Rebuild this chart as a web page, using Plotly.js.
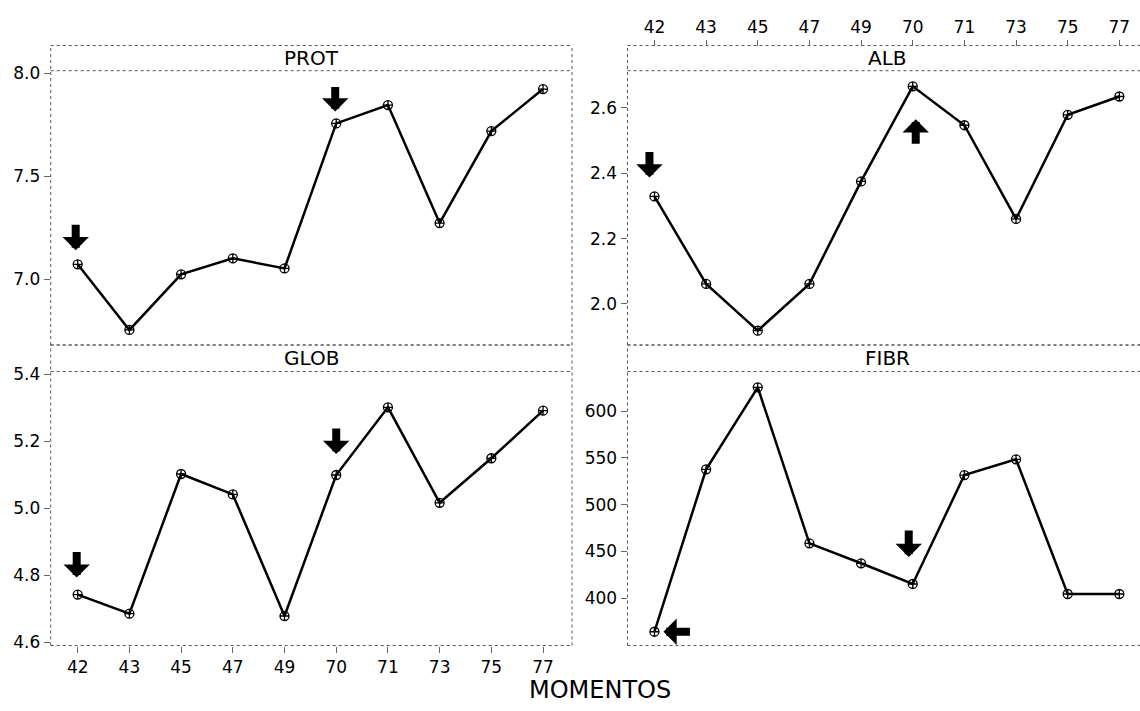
<!DOCTYPE html>
<html><head><meta charset="utf-8">
<script src="https://cdn.plot.ly/plotly-3.0.1.min.js"></script>
<style>html,body{margin:0;padding:0;background:#fff}</style>
</head><body><div id="chart" style="width:1140px;height:711px"></div>
<script>
// ---- data ----
const momentos = ['42','43','45','47','49','70','71','73','75','77'];
const prot = [7.073, 6.754, 7.024, 7.102, 7.053, 7.757, 7.846, 7.273, 7.720, 7.924];
const glob = [4.742, 4.685, 5.102, 5.041, 4.678, 5.099, 5.301, 5.016, 5.149, 5.291];
const alb  = [2.329, 2.061, 1.918, 2.061, 2.375, 2.666, 2.547, 2.260, 2.579, 2.635];
const fibr = [364.3, 537.7, 625.3, 458.7, 437.4, 415.3, 531.6, 548.4, 404.6, 404.6];
const panelNames = ['PROT', 'GLOB', 'ALB', 'FIBR'];
const xTitle = 'MOMENTOS';

// ---- styling ----
const tickFont = {family: 'DejaVu Sans', size: 17, color: '#000'};
const lineStyle = {color: '#000', width: 2.5};
const markerStyle = {symbol: 'circle-cross-open', size: 9, color: '#000', line: {width: 1.3, color: '#000'}};

function trace(y, xa, ya) {
  return {x: momentos, y: y, xaxis: xa, yaxis: ya, type: 'scatter', mode: 'lines+markers',
          line: lineStyle, marker: markerStyle, showlegend: false, hoverinfo: 'x+y'};
}
const data = [
  trace(prot, 'x', 'y'),
  trace(glob, 'x2', 'y2'),
  trace(alb, 'x3', 'y3'),
  trace(fibr, 'x4', 'y4')
];

const W = 1140, H = 711;
const leftDom = [50.7 / W, 572 / W];
const rightDom = [627.5 / W, 1];
const topDom = [1 - 345 / H, 1 - 70.7 / H];
const botDom = [1 - 645.5 / H, 1 - 371.5 / H];
const hTop = 25.2 / 274.3, hBot = 26.5 / 274;

const baseX = {type: 'category', categoryorder: 'array', categoryarray: momentos,
  showgrid: false, zeroline: false, showline: false, tickfont: tickFont, fixedrange: true};
const baseY = {showgrid: false, zeroline: false, showline: false, ticks: 'outside', ticklen: 6,
  tickcolor: '#666', tickwidth: 1, tickfont: tickFont, fixedrange: true};

const layout = {
  width: W, height: H, margin: {l: 0, r: 0, t: 0, b: 0},
  paper_bgcolor: '#fff', plot_bgcolor: '#fff', showlegend: false,
  xaxis:  Object.assign({}, baseX, {domain: leftDom, anchor: 'y', range: [-0.522, 9.56], showticklabels: false, ticks: ''}),
  yaxis:  Object.assign({}, baseY, {domain: topDom, anchor: 'x', range: [6.681, 8.013], tickvals: [7.0, 7.5, 8.0], ticktext: ['7.0','7.5','8.0']}),
  xaxis2: Object.assign({}, baseX, {domain: leftDom, anchor: 'y2', range: [-0.522, 9.56], ticks: 'outside', ticklen: 6, tickcolor: '#666'}),
  yaxis2: Object.assign({}, baseY, {domain: botDom, anchor: 'x2', range: [4.590, 5.408], tickvals: [4.6, 4.8, 5.0, 5.2, 5.4], ticktext: ['4.6','4.8','5.0','5.2','5.4']}),
  xaxis3: Object.assign({}, baseX, {domain: rightDom, anchor: 'free', position: 1 - 45.7 / H, side: 'top', range: [-0.522, 9.40], ticks: 'outside', ticklen: 6, tickcolor: '#666'}),
  yaxis3: Object.assign({}, baseY, {domain: topDom, anchor: 'x3', range: [1.874, 2.714], tickvals: [2.0, 2.2, 2.4, 2.6], ticktext: ['2.0','2.2','2.4','2.6']}),
  xaxis4: Object.assign({}, baseX, {domain: rightDom, anchor: 'y4', range: [-0.522, 9.40], showticklabels: false, ticks: ''}),
  yaxis4: Object.assign({}, baseY, {domain: botDom, anchor: 'x4', range: [349.6, 642.2], tickvals: [400, 450, 500, 550, 600]}),
  shapes: [],
  annotations: []
};

const dot = {color: '#555', width: 1, dash: 'dot'};
function seg(xr, yr, x0, x1, y0, y1) {
  layout.shapes.push({type: 'line', xref: xr + ' domain', yref: yr + ' domain', x0: x0, x1: x1, y0: y0, y1: y1, line: dot, layer: 'below'});
}
// left column frames
[['x','y',hTop],['x2','y2',hBot]].forEach(([xr, yr, h]) => {
  seg(xr, yr, 0, 0, 0, 1 + h);
  seg(xr, yr, 1, 1, 0, 1 + h);
  seg(xr, yr, 0, 1, 1 + h, 1 + h);
  seg(xr, yr, 0, 1, 1, 1);
  seg(xr, yr, 0, 1, 0, 0);
});
// right column frames (right edge runs off the page)
[['x3','y3',hTop],['x4','y4',hBot]].forEach(([xr, yr, h]) => {
  seg(xr, yr, 0, 0, 0, 1 + h);
  seg(xr, yr, 0, 1, 1 + h, 1 + h);
  seg(xr, yr, 0, 1, 1, 1);
  seg(xr, yr, 0, 1, 0, 0);
});

// strip labels
const stripFont = {family: 'DejaVu Sans', size: 20, color: '#000'};
[['x','y',hTop,panelNames[0], 0.5],['x2','y2',hBot,panelNames[1], 0.5],
 ['x3','y3',hTop,panelNames[2], (887 - 627.5) / (W - 627.5)],['x4','y4',hBot,panelNames[3], (887 - 627.5) / (W - 627.5)]].forEach(([xr, yr, h, name, cx]) => {
  layout.annotations.push({xref: xr + ' domain', yref: yr + ' domain', x: cx, y: 1 + h / 2,
    xanchor: 'center', yanchor: 'middle', text: name, showarrow: false, font: stripFont});
});

// axis title
layout.annotations.push({xref: 'paper', yref: 'paper', x: 600 / W, y: 1 - 690 / H, xanchor: 'center', yanchor: 'middle',
  text: xTitle, showarrow: false, font: {family: 'DejaVu Sans', size: 24, color: '#000'}});

// block arrows pointing at selected moments (x given as category index)
function arrow(xr, yr, idx, yval, ax, ay, standoff, xshift) {
  layout.annotations.push({xref: xr, yref: yr, x: idx, y: yval, text: '', showarrow: true,
    ax: ax, ay: ay, standoff: standoff, xshift: xshift || 0,
    arrowhead: 1, arrowsize: 0.55, arrowwidth: 8, arrowcolor: '#000'});
}
const i42 = momentos.indexOf('42'), i70 = momentos.indexOf('70');
arrow('x', 'y', i42, prot[i42], 0, -41, 14, -2);
arrow('x', 'y', i70, prot[i70], 0, -38, 12, -1);
arrow('x2', 'y2', i42, glob[i42], 0, -44, 17, -1);
arrow('x2', 'y2', i70, glob[i70], 0, -48, 21, 0);
arrow('x3', 'y3', i42, alb[i42], 0, -46, 19, -5);
arrow('x3', 'y3', i70, alb[i70], 0, 59, 33, 3);
arrow('x4', 'y4', i42, fibr[i42], 37, 0, 9, 0);
arrow('x4', 'y4', i70, fibr[i70], 0, -55, 27, -4);

Plotly.newPlot('chart', data, layout, {displayModeBar: false, staticPlot: true});
</script></body></html>
